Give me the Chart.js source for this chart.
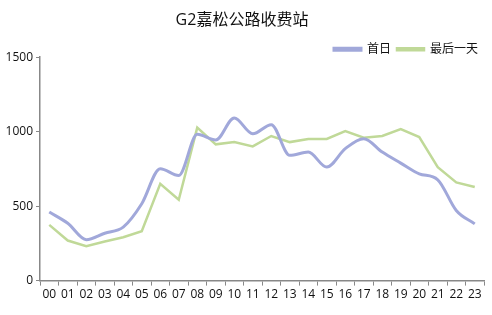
<!DOCTYPE html>
<html><head><meta charset="utf-8">
<script src="https://cdn.jsdelivr.net/npm/chart.js@4/dist/chart.umd.min.js"></script>
<style>html,body{margin:0;padding:0;background:#fff}#w{width:492px;height:315px}</style>
</head><body><div id="w"><canvas id="c"></canvas></div>
<script>
const categories = ['00','01','02','03','04','05','06','07','08','09','10','11','12','13','14','15','16','17','18','19','20','21','22','23'];
const firstDay = [460,385,275,318,359,516,751,706,982,944,1092,986,1047,841,863,762,886,953,863,789,717,677,471,381];
const lastDay = [374,269,231,262,291,332,650,543,1027,915,930,901,971,930,951,951,1004,960,971,1018,964,762,659,628];
const yTicks = [0,500,1000,1500];
const F = "'Open Sans','Noto Sans CJK SC',sans-serif";
const shiftBlocks = {
  id: 'shiftBlocks',
  afterLayout(chart) {
    if (chart.titleBlock) { chart.titleBlock.top += 4; chart.titleBlock.bottom += 4; }
    if (chart.legend) { chart.legend.top += 8; chart.legend.bottom += 8; }
  }
};
new Chart(document.getElementById('c'), {
  type: 'line',
  data: { labels: categories, datasets: [
    { label: '首日', data: firstDay, borderColor: '#a1a8da', backgroundColor: '#a1a8da', borderWidth: 3, tension: 0.4, pointRadius: 0, cubicInterpolationMode: 'monotone' },
    { label: '最后一天', data: lastDay, borderColor: '#c0d998', backgroundColor: '#c0d998', borderWidth: 2.5, tension: 0, pointRadius: 0 }
  ]},
  options: {
    responsive: true, maintainAspectRatio: false, animation: false,
    layout: { padding: { left: 0, right: 8, top: 5, bottom: 11 } },
    plugins: {
      title: { display: true, text: 'G2嘉松公路收费站', color: '#111', font: { family: F, size: 16, weight: 'normal' }, padding: { top: 2, bottom: 3 } },
      legend: { position: 'top', align: 'end', labels: { color: '#111', font: { family: F, size: 12 }, boxWidth: 27, boxHeight: 2, padding: 6 } },
      tooltip: { enabled: false }
    },
    scales: {
      x: { offset: true,
        grid: { offset: true, drawOnChartArea: false, color: '#888', tickLength: 5 },
        border: { color: '#888', width: 1.5 },
        ticks: { color: '#111', font: { family: F, size: 12 }, maxRotation: 0, autoSkip: false, padding: 2 } },
      y: { min: 0, max: 1500,
        afterBuildTicks: s => { s.ticks = yTicks.map(v => ({ value: v })); },
        afterFit: s => { s.width = 40; },
        grid: { drawOnChartArea: false, color: '#888', tickLength: 4 },
        border: { color: '#888', width: 1.5 },
        ticks: { color: '#111', font: { family: F, size: 12 }, padding: 3, callback: v => String(v) } }
    }
  },
  plugins: [shiftBlocks]
});
</script></body></html>
